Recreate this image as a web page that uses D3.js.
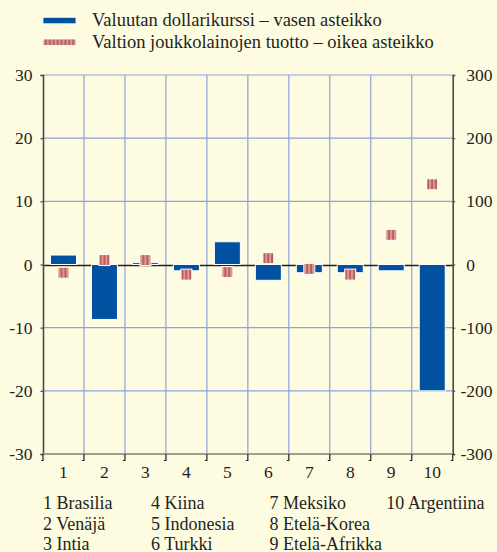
<!DOCTYPE html>
<html><head><meta charset="utf-8">
<script src="https://cdn.jsdelivr.net/npm/d3@7"></script>
<style>
html,body{margin:0;padding:0;background:#fefce0;}
svg{display:block;font-family:"Liberation Serif","Times New Roman",serif;}
</style></head>
<body><svg id="c" width="497" height="552"></svg>
<script>
const categories = ["1","2","3","4","5","6","7","8","9","10"];
const countryNames = ["1 Brasilia","2 Venäjä","3 Intia","4 Kiina","5 Indonesia","6 Turkki","7 Meksiko","8 Etelä-Korea","9 Etelä-Afrikka","10 Argentiina"];
const currencyValues = [1.5, -8.7, 0.3, -1.0, 3.6, -2.5, -1.3, -1.3, -1.0, -20.0];
const yieldValues = [-13, 7, 7, -16, -12, 10, -7, -16, 47, 127];
const leftTicks = [-30, -20, -10, 0, 10, 20, 30];
const rightTicks = [-300, -200, -100, 0, 100, 200, 300];
const legendLabels = ["Valuutan dollarikurssi – vasen asteikko", "Valtion joukkolainojen tuotto – oikea asteikko"];

const svg = d3.select("#c");
const W = 497, H = 552;
const L = 43, R = 452.7, T = 75, B = 454;
const blue = "#0052a0", grid = "#8ea2dc", txt = "#231f20";
const FONT = "Liberation Serif";

svg.append("rect").attr("width", W).attr("height", H).attr("fill", "#fefce0");

const defs = svg.append("defs");
const pat = defs.append("pattern").attr("id", "stripe").attr("patternUnits", "userSpaceOnUse")
  .attr("width", 3.9).attr("height", 10).attr("x", 1);
pat.append("rect").attr("width", 3.9).attr("height", 10).attr("fill", "#d69a8f");
pat.append("rect").attr("x", 1.4).attr("width", 1.2).attr("height", 10).attr("fill", "#b23b3b");

// heading text, mostly above the visible area as in the reference
svg.append("text").attr("x", 8).attr("y", -4.5).attr("fill", blue).attr("font-size", 17.5)
  .attr("font-family", FONT).text("(prosenttia, peruspisteitä)");

const x = d3.scaleBand().domain(categories).range([L, R]).padding(0);
const yL = d3.scaleLinear().domain([-30, 30]).range([B, T]);
const yR = d3.scaleLinear().domain([-300, 300]).range([B, T]);

// grid
const g = svg.append("g");
g.selectAll("line.h").data(leftTicks.filter(d => d !== 0 && d !== -30)).enter().append("line")
  .attr("x1", L).attr("x2", R).attr("y1", d => yL(d)).attr("y2", d => yL(d))
  .attr("stroke", grid).attr("stroke-width", 1.2);
g.selectAll("line.v").data(categories.slice(1)).enter().append("line")
  .attr("x1", d => x(d)).attr("x2", d => x(d)).attr("y1", T).attr("y2", B)
  .attr("stroke", grid).attr("stroke-width", 1.2);

// zero line
svg.append("line").attr("x1", L).attr("x2", R).attr("y1", yL(0) + 1).attr("y2", yL(0) + 1)
  .attr("stroke", txt).attr("stroke-width", 1.5);

// blue bars
const bw = 26;
svg.selectAll("rect.bar").data(currencyValues).enter().append("rect")
  .attr("x", (d, i) => x(categories[i]) + x.bandwidth() / 2 - bw / 2)
  .attr("width", bw)
  .attr("y", d => Math.min(yL(d), yL(0)))
  .attr("height", d => Math.abs(yL(d) - yL(0)))
  .attr("fill", blue).attr("stroke", "#ffffff").attr("stroke-width", 1);

// red markers
const mw = 11, mh = 11;
svg.selectAll("rect.mk").data(yieldValues).enter().append("rect")
  .attr("x", (d, i) => x(categories[i]) + x.bandwidth() / 2 - mw / 2)
  .attr("y", d => yR(d) - mh / 2)
  .attr("width", mw).attr("height", mh)
  .attr("fill", "url(#stripe)").attr("stroke", "#ffffff").attr("stroke-width", 1);

// axes
const axL = svg.append("g").attr("transform", `translate(${L},0)`)
  .call(d3.axisLeft(yL).tickValues(leftTicks).tickSize(2.5).tickPadding(8).tickFormat(d => String(d)));
const axR = svg.append("g").attr("transform", `translate(${R},0)`)
  .call(d3.axisRight(yR).tickValues(rightTicks).tickSize(2.5).tickPadding(11).tickFormat(d => String(d)));
[axL, axR].forEach(a => {
  a.attr("font-family", FONT);
  a.select(".domain").attr("stroke", "#4a4a4a").attr("stroke-width", 1.6);
  a.selectAll(".tick line").attr("stroke", "#4a4a4a").attr("stroke-width", 1.2);
  a.selectAll(".tick text").attr("font-size", 17.5).attr("fill", txt).attr("font-family", FONT);
});
axR.selectAll(".tick text").attr("dx", d => d < 0 ? -5.8 : 0);

// bottom axis
const axB = svg.append("g").attr("transform", `translate(0,${B})`)
  .call(d3.axisBottom(x).tickSize(0).tickPadding(12));
axB.attr("font-family", FONT);
axB.select(".domain").remove();
axB.selectAll(".tick text").attr("font-size", 17.5).attr("fill", txt).attr("font-family", FONT);
svg.append("line").attr("x1", L).attr("x2", R).attr("y1", B).attr("y2", B)
  .attr("stroke", "#a59e90").attr("stroke-width", 2.2);
const bounds = categories.map(c => x(c)).concat([R]);
svg.selectAll("path.bt").data(bounds).enter().append("path")
  .attr("d", d => `M${d},${B} V${B + 6.5} h-2`)
  .attr("fill", "none").attr("stroke", txt).attr("stroke-width", 1.2);

// legend
const leg = svg.append("g");
leg.append("rect").attr("x", 43).attr("y", 17.3).attr("width", 33).attr("height", 6.5)
  .attr("fill", blue).attr("stroke", "#ffffff").attr("stroke-width", 0.8);
leg.append("rect").attr("x", 43).attr("y", 39).attr("width", 33).attr("height", 6.5)
  .attr("fill", "url(#stripe)").attr("stroke", "#ffffff").attr("stroke-width", 0.8);
leg.selectAll("text").data(legendLabels).enter().append("text")
  .attr("x", 92).attr("y", (d, i) => 26 + i * 22)
  .attr("font-size", 18.5).attr("font-family", FONT).attr("fill", txt).text(d => d);

// country list
const colX = [43, 151, 269.5, 386.3];
const rowY = [509, 529.5, 549.5];
const pos = [[0,0],[0,1],[0,2],[1,0],[1,1],[1,2],[2,0],[2,1],[2,2],[3,0]];
svg.selectAll("text.cn").data(countryNames).enter().append("text")
  .attr("x", (d, i) => colX[pos[i][0]]).attr("y", (d, i) => rowY[pos[i][1]])
  .attr("font-size", 18).attr("font-family", FONT).attr("fill", txt).text(d => d);
</script>
</body></html>
